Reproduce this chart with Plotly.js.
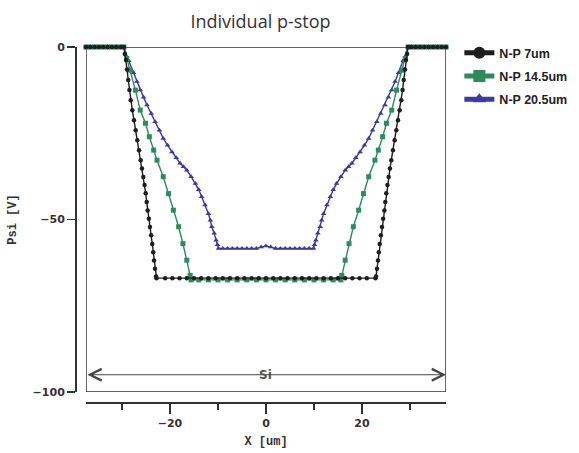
<!DOCTYPE html>
<html>
<head>
<meta charset="utf-8">
<script src="https://cdn.plot.ly/plotly-3.0.1.min.js"></script>
<style>html,body{margin:0;padding:0;background:#fff;}#chart{width:579px;height:453px;}</style>
</head>
<body>
<div id="chart"></div>
<script>
// ---- data ----
const seriesNames = ["N-P 7um", "N-P 14.5um", "N-P 20.5um"];

const blackX = [-37.5,-36.6,-35.7,-34.8,-33.9,-33.0,-32.1,-31.2,-30.3,
  -29.6,-29.4,-29.17,-28.95,-28.69,-28.45,-28.19,-27.85,-27.5,-27.15,-26.81,-26.45,-26.1,-25.83,-25.56,-25.3,-25.06,-24.85,-24.65,-24.4,-24.17,-23.93,-23.69,-23.5,-23.33,-23.12,-22.92,-22.8,
  -21.0,-19.5,-18.0,-16.5,-15.0,-13.5,-12.0,-10.5,-9.0,-7.5,-6.0,-4.5,-3.0,-1.5,0,1.5,3.0,4.5,6.0,7.5,9.0,10.5,12.0,13.5,15.0,16.5,18.0,19.5,21.0,
  22.8,22.92,23.12,23.33,23.5,23.69,23.93,24.17,24.4,24.65,24.85,25.06,25.3,25.56,25.83,26.1,26.45,26.81,27.15,27.5,27.85,28.19,28.45,28.69,28.95,29.17,29.4,29.6,
  30.3,31.2,32.1,33.0,33.9,34.8,35.7,36.6,37.5];
const blackY = [0,0,0,0,0,0,0,0,0,
  0,-2,-3.8,-6.5,-9.6,-12.5,-15.4,-18.3,-21.2,-24.1,-27.0,-29.9,-32.8,-35.2,-37.7,-40,-42.4,-44.9,-47.4,-49.8,-52.2,-54.6,-57.1,-59.5,-61.9,-64.3,-66.5,-67.0,
  -67,-67,-67,-67,-67,-67,-67,-67,-67,-67,-67,-67,-67,-67,-67,-67,-67,-67,-67,-67,-67,-67,-67,-67,-67,-67,-67,-67,-67,
  -67.0,-66.5,-64.3,-61.9,-59.5,-57.1,-54.6,-52.2,-49.8,-47.4,-44.9,-42.4,-40,-37.7,-35.2,-32.8,-29.9,-27.0,-24.1,-21.2,-18.3,-15.4,-12.5,-9.6,-6.5,-3.8,-2,0,
  0,0,0,0,0,0,0,0,0];

const greenX = [-37.5,-36.6,-35.7,-34.8,-33.9,-33.0,-32.1,-31.2,-30.3,
  -29.6,-29.0,-28.3,-27.2,-26.2,-25.1,-24.3,-23.4,-22.7,-21.4,-20.3,-19.3,-18.2,-17.3,-16.5,-15.8,-15.6,
  -14,-12,-10,-8,-6,-4,-2,0,2,4,6,8,10,12,14,
  15.6,15.8,16.5,17.3,18.2,19.3,20.3,21.4,22.7,23.4,24.3,25.1,26.2,27.2,28.3,29.0,29.6,
  30.3,31.2,32.1,33.0,33.9,34.8,35.7,36.6,37.5];
const greenY = [0,0,0,0,0,0,0,0,0,
  0,-3.3,-6.7,-12.5,-18.3,-22.1,-26.0,-29.9,-32.8,-37.6,-42.5,-47.3,-52.1,-57.0,-61.8,-66.2,-67.5,
  -67.5,-67.5,-67.5,-67.5,-67.5,-67.5,-67.5,-67.5,-67.5,-67.5,-67.5,-67.5,-67.5,-67.5,-67.5,
  -67.5,-66.2,-61.8,-57.0,-52.1,-47.3,-42.5,-37.6,-32.8,-29.9,-26.0,-22.1,-18.3,-12.5,-6.7,-3.3,0,
  0,0,0,0,0,0,0,0,0];

const blueX = [-37.5,-36.6,-35.7,-34.8,-33.9,-33.0,-32.1,-31.2,-30.3,
  -29.6,-28.6,-27.6,-26.9,-26.2,-25.5,-24.8,-23.9,-23.1,-22.2,-21.4,-20.5,-19.6,-18.7,-17.9,-17.2,-16.5,-15.6,-14.7,-14.0,-13.4,-12.7,-12.0,-11.6,-11.3,-10.8,-10.4,-10.1,-9.9,
  -9,-8,-7,-6,-5,-4,-3,-2,-1,0,1,2,3,4,5,6,7,8,9,
  9.9,10.1,10.4,10.8,11.3,11.6,12.0,12.7,13.4,14.0,14.7,15.6,16.5,17.2,17.9,18.7,19.6,20.5,21.4,22.2,23.1,23.9,24.8,25.5,26.2,26.9,27.6,28.6,29.6,
  30.3,31.2,32.1,33.0,33.9,34.8,35.7,36.6,37.5];
const blueY = [0,0,0,0,0,0,0,0,0,
  0,-4.0,-7.5,-10.0,-12.5,-14.6,-16.8,-19.3,-21.7,-24.1,-26.5,-28.5,-30.4,-32.1,-33.7,-34.7,-35.7,-37.6,-39.6,-41.4,-43.4,-45.8,-48.3,-50.2,-52.1,-54.0,-56.0,-57.3,-58.4,
  -58.4,-58.4,-58.4,-58.4,-58.4,-58.4,-58.4,-58.4,-58.0,-57.7,-58.0,-58.4,-58.4,-58.4,-58.4,-58.4,-58.4,-58.4,-58.4,
  -58.4,-57.3,-56.0,-54.0,-52.1,-50.2,-48.3,-45.8,-43.4,-41.4,-39.6,-37.6,-35.7,-34.7,-33.7,-32.1,-30.4,-28.5,-26.5,-24.1,-21.7,-19.3,-16.8,-14.6,-12.5,-10.0,-7.5,-4.0,0,
  0,0,0,0,0,0,0,0,0];

const xTickVals = [-20, 0, 20];
const yTickVals = [0, -50, -100];
const regionLabel = "Si";

// ---- chart ----
const cBlack = "#1e1e1e", cGreen = "#2f8a5c", cBlue = "#3b3b9e";
const tickFont = {family: "DejaVu Sans", size: 11, color: "#333", weight: "bold"};
const monoFont = {family: "Liberation Mono", size: 12, color: "#333", weight: "bold"};

const traces = [
  {x: blueX, y: blueY, name: seriesNames[2], legendgroup: "c", legendrank: 3, type: "scatter", mode: "lines+markers", cliponaxis: false,
   line: {color: cBlue, width: 1.4}, marker: {symbol: "triangle-up", size: 5, color: cBlue}},
  {x: greenX, y: greenY, name: seriesNames[1], legendgroup: "b", legendrank: 2, type: "scatter", mode: "lines+markers", cliponaxis: false,
   line: {color: cGreen, width: 1.4}, marker: {symbol: "square", size: 5, color: cGreen}},
  {x: blackX, y: blackY, name: seriesNames[0], legendgroup: "a", legendrank: 1, type: "scatter", mode: "lines+markers", cliponaxis: false,
   line: {color: cBlack, width: 1.4}, marker: {symbol: "circle", size: 4.5, color: cBlack}}
];

const layout = {
  width: 579, height: 453,
  margin: {l: 75, r: 133, t: 47, b: 51, pad: 0, autoexpand: false},
  paper_bgcolor: "#fff", plot_bgcolor: "#fff",
  title: {text: "Individual p-stop", x: 0.5, xref: "paper", xanchor: "center", y: 0.967, yref: "container",
          font: {family: "Open Sans", size: 18, color: "#333"}},
  showlegend: true,
  legend: {x: 1.036, y: 1.025, xanchor: "left", yanchor: "top", traceorder: "grouped", tracegroupgap: 4,
           itemsizing: "constant", bgcolor: "rgba(0,0,0,0)",
           font: {family: "Liberation Sans", size: 12.5, color: "#222", weight: "bold"}},
  xaxis: {range: [-37.5, 37.5], domain: [0.0296, 1], anchor: "free", position: 0,
          showline: true, linecolor: "#333", linewidth: 1.5, zeroline: false, showgrid: false,
          tickmode: "array", tickvals: xTickVals, ticks: "outside", ticklen: 10, tickwidth: 1.5, tickcolor: "#333",
          minor: {dtick: 10, tick0: 0, ticks: "outside", ticklen: 6, tickwidth: 1.5, tickcolor: "#333"},
          tickfont: tickFont,
          title: {text: "X [um]", font: monoFont, standoff: 8}},
  yaxis: {range: [-100, 0], domain: [0.0282, 1], anchor: "free", position: 0,
          showline: true, linecolor: "#333", linewidth: 1.5, zeroline: false, showgrid: false,
          tickmode: "array", tickvals: yTickVals, ticks: "outside", ticklen: 8, tickwidth: 1.5, tickcolor: "#333",
          tickfont: tickFont,
          title: {text: "Psi [V]", font: monoFont, standoff: 12}},
  shapes: [
    {type: "rect", xref: "x", yref: "y", x0: -37.5, x1: 37.5, y0: -100, y1: 0, layer: "below",
     line: {color: "#333", width: 1.5}}
  ],
  annotations: [
    {xref: "x", yref: "y", axref: "x", ayref: "y", x: 37.5, y: -95, ax: -37.5, ay: -95, text: "",
     showarrow: true, arrowside: "end+start", arrowhead: 5, startarrowhead: 5, arrowsize: 2.3, startarrowsize: 2.3,
     arrowwidth: 1, arrowcolor: "#444", standoff: 0, startstandoff: 0},
    {xref: "x", yref: "y", x: 0, y: -95, text: regionLabel, showarrow: false,
     font: {family: "DejaVu Sans", size: 12, color: "#555", weight: "bold"}}
  ]
};

Plotly.newPlot("chart", traces, layout, {staticPlot: true, displayModeBar: false});
</script>
</body>
</html>
